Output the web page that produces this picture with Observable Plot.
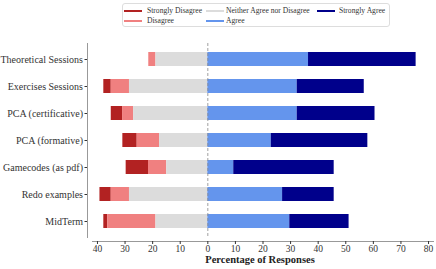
<!DOCTYPE html>
<html><head><meta charset="utf-8">
<script src="https://cdn.jsdelivr.net/npm/d3@7"></script>
<script src="https://cdn.jsdelivr.net/npm/@observablehq/plot@0.6"></script>
<style>
body{margin:0;background:#fff;}
#wrap{position:relative;width:436px;height:269px;font-family:"Liberation Serif","DejaVu Serif",serif;}
#wrap svg text{font-family:"Liberation Serif","DejaVu Serif",serif;}
#legend{position:absolute;left:122px;top:3px;width:268px;height:24px;border:1px solid #ddd;border-radius:3px;box-sizing:border-box;background:#fff;}
.mk{position:absolute;height:2px;width:18px;}
.lt{position:absolute;font-size:7.6px;line-height:8px;color:#333;white-space:nowrap;}
#xlabel{position:absolute;left:0;width:520px;top:255px;line-height:10px;text-align:center;font-weight:bold;font-size:10.5px;color:#222;}
</style></head>
<body><div id="wrap"><div id="legend"></div><div id="xlabel">Percentage of Responses</div></div>
<script>
const categories = ["Theoretical Sessions","Exercises Sessions","PCA (certificative)","PCA (formative)","Gamecodes (as pdf)","Redo examples","MidTerm"];
const responses = ["Strongly Disagree","Disagree","Neither Agree nor Disagree","Agree","Strongly Agree"];
const stronglyDisagree = [0, 2.7, 4.1, 5.2, 8.1, 4.1, 1.4];
const disagree = [2.6, 6.6, 4.0, 8.1, 6.6, 6.6, 17.5];
const neutral = [18.8, 28.4, 26.9, 17.5, 14.9, 28.4, 18.8];
const agree = [36.5, 32.4, 32.4, 23.0, 9.4, 27.1, 29.7];
const stronglyAgree = [39.0, 24.3, 28.2, 35.0, 36.4, 18.7, 21.5];
const colors = ["#b22222","#f08080","#dcdcdc","#6495ed","#00008b"];
const xTicks = [-40,-30,-20,-10,0,10,20,30,40,50,60,70,80];

const series = [stronglyDisagree, disagree, neutral, agree, stronglyAgree];
const signs = [-1,-1,-1,1,1];
const rows = [];
categories.forEach((c,i)=>{
  responses.forEach((r,j)=>{
    rows.push({category:c, response:r, value: signs[j]*series[j][i]});
  });
});

const chart = Plot.plot({
  width:436, height:269,
  marginLeft:87, marginRight:3, marginTop:43, marginBottom:28,
  style:{fontSize:"10px", color:"#333", background:"transparent"},
  x:{domain:[-41.8,81.8], insetLeft:5},
  y:{domain:categories, paddingInner:0.5, paddingOuter:0.24, insetBottom:4},
  color:{domain:responses, range:colors},
  marks:[
    Plot.barX(rows, Plot.stackX({y:"category", x:"value", fill:"response",
      order:["Neither Agree nor Disagree","Disagree","Strongly Disagree","Agree","Strongly Agree"]})),
    Plot.ruleX([0], {stroke:"#888", strokeDasharray:"3,2", strokeWidth:0.8, insetBottom:4}),
    Plot.frame({anchor:"left", stroke:"#999", insetBottom:4}),
    Plot.frame({anchor:"bottom", stroke:"#999", insetLeft:5}),
    Plot.axisX({ticks:xTicks, tickFormat:d=>Math.abs(d), tickSize:3, tickPadding:1, fontSize:9.5, label:null}),
    Plot.axisY({tickSize:2.5, tickPadding:2, fontSize:10, label:null})
  ]
});
const wrap = document.getElementById("wrap");
wrap.insertBefore(chart, wrap.firstChild);

const legend = document.getElementById("legend");
const mkLeft = [1, 1, 83, 83, 194];
const txLeft = [24, 24, 103, 103, 216];
const rowTop = [5.5, 16];
const rowIdx = [0,1,0,1,0];
responses.forEach((r,j)=>{
  const m = document.createElement("div");
  m.className="mk"; m.style.background=colors[j];
  m.style.left=mkLeft[j]+"px"; m.style.top=rowTop[rowIdx[j]]+"px";
  legend.appendChild(m);
  const t = document.createElement("div");
  t.className="lt"; t.textContent=r;
  t.style.left=txLeft[j]+"px"; t.style.top=(rowTop[rowIdx[j]]-3)+"px";
  legend.appendChild(t);
});
</script></body></html>
